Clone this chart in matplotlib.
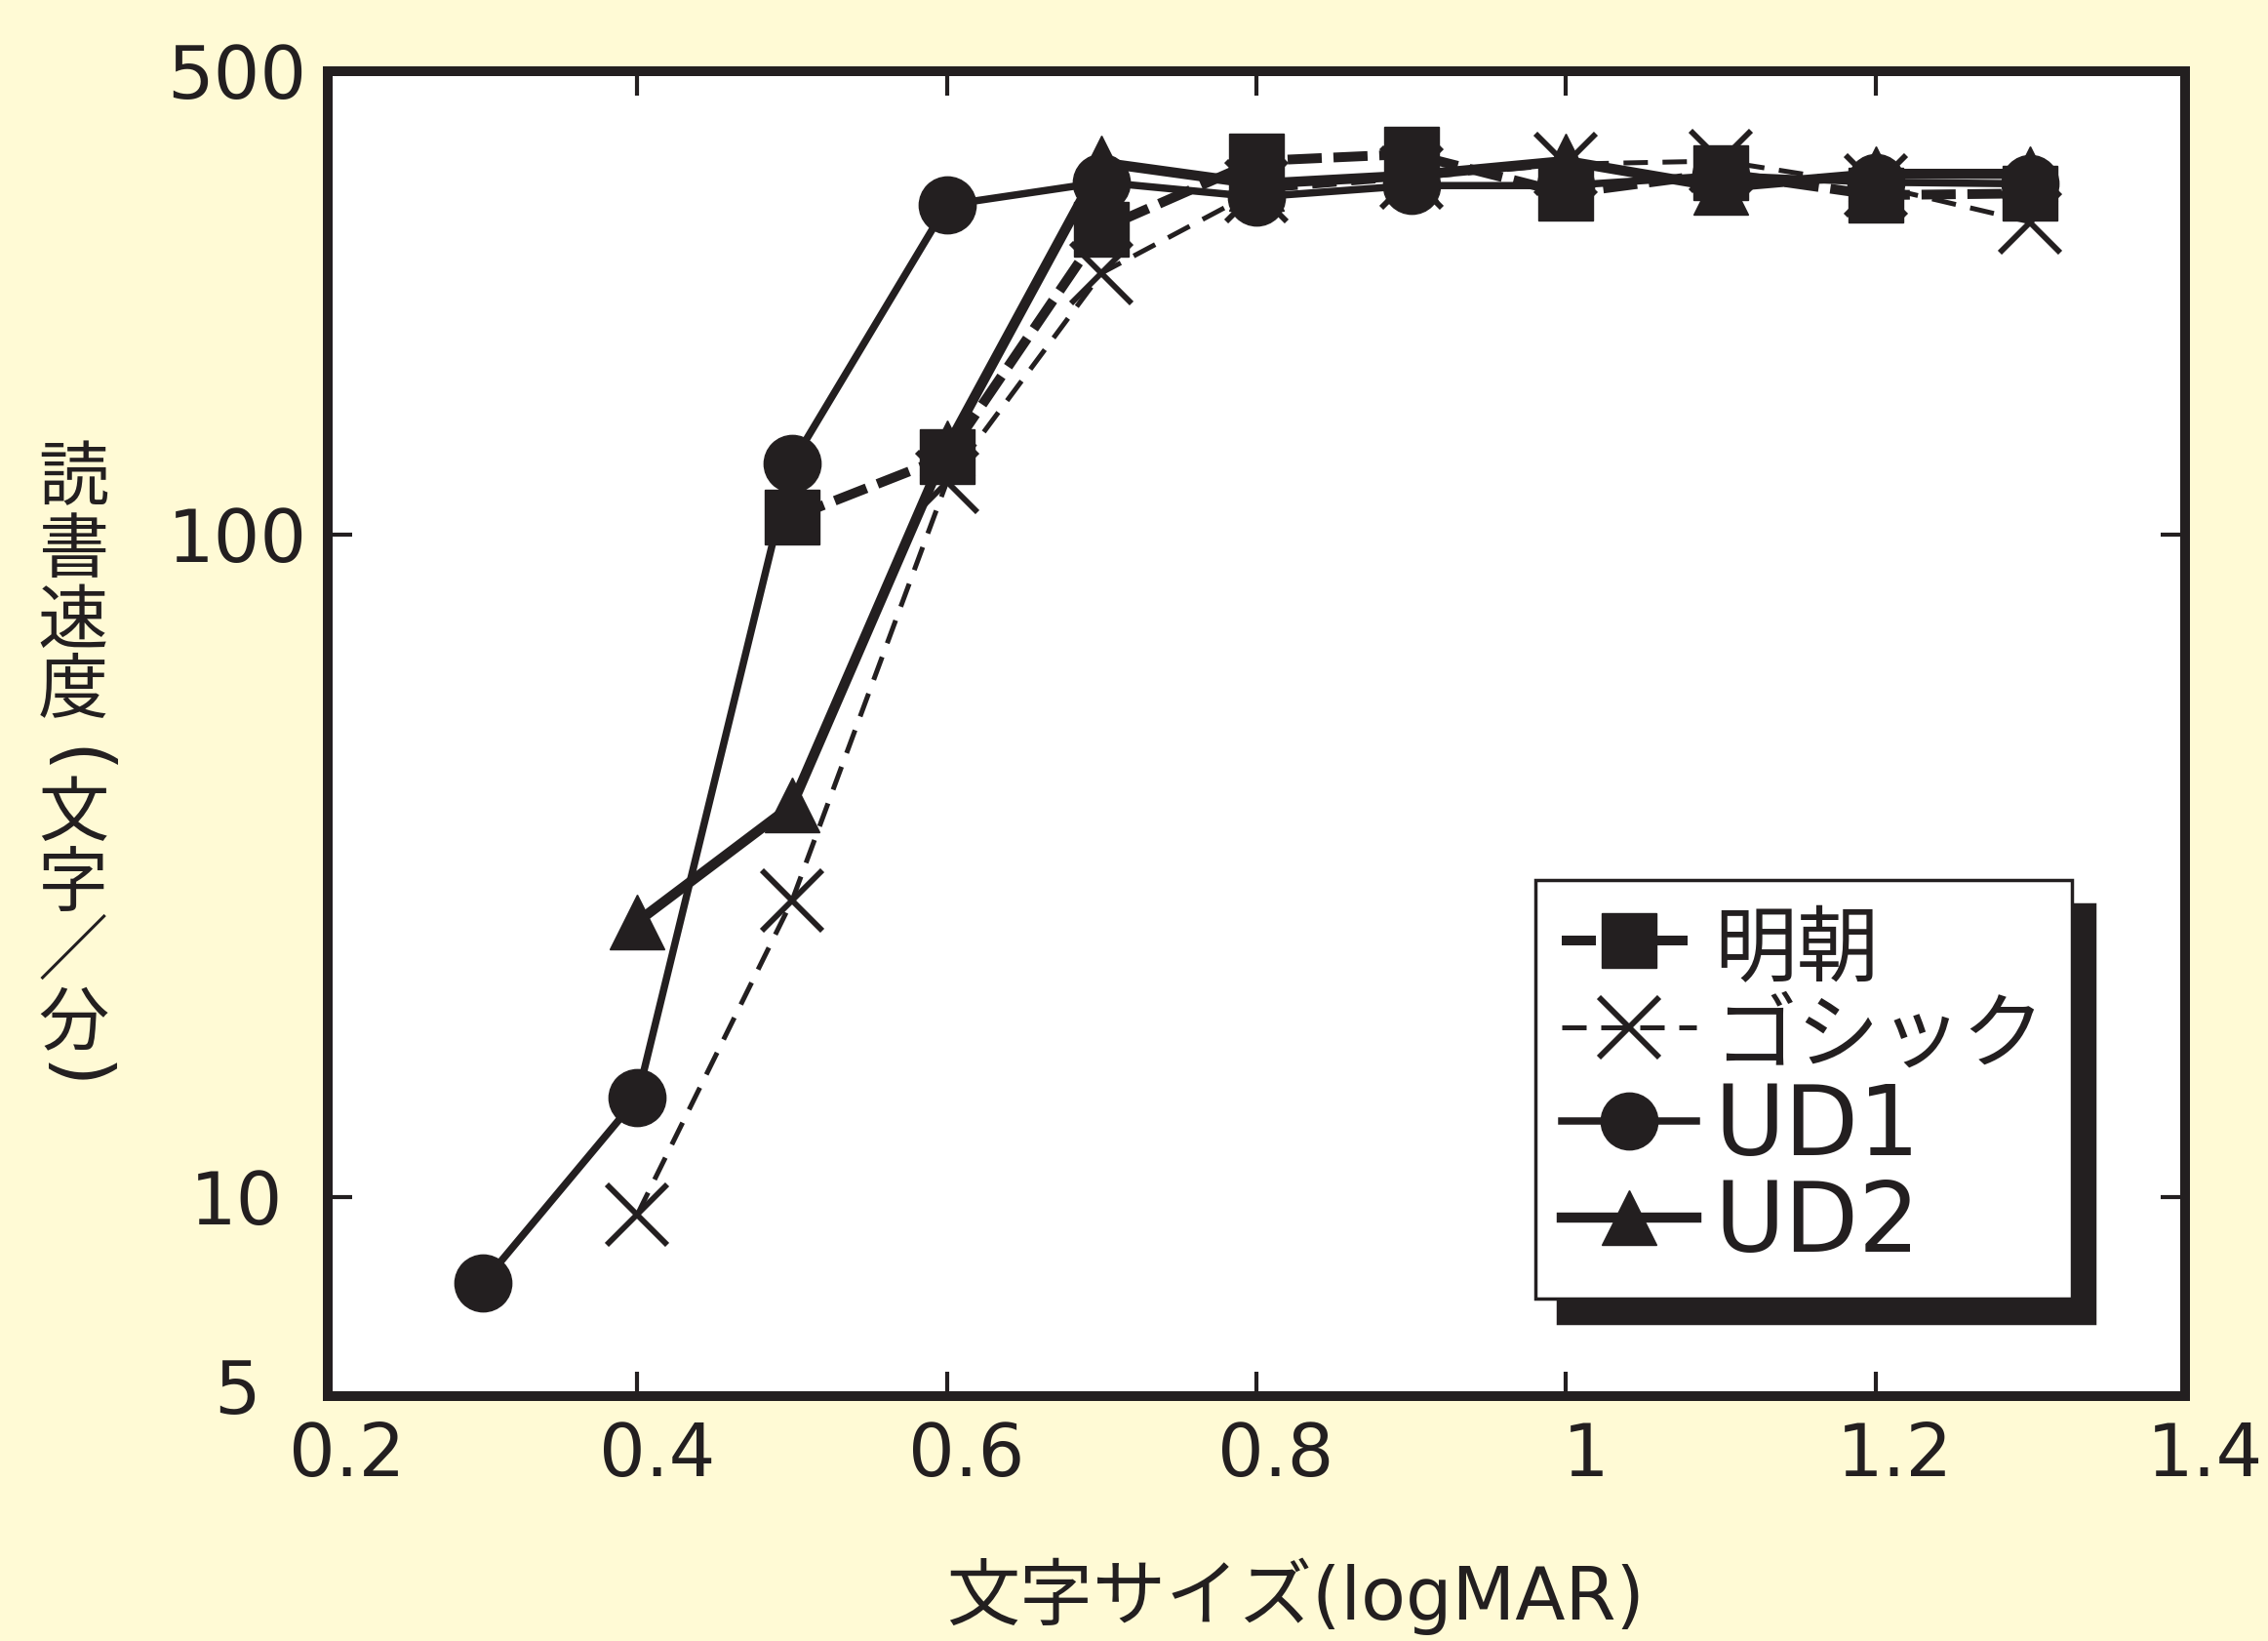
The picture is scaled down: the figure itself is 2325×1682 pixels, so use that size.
import matplotlib
matplotlib.use("Agg")
import matplotlib.pyplot as plt
from matplotlib.ticker import FixedLocator, NullLocator
from matplotlib.transforms import ScaledTranslation

plt.rcParams['font.family'] = ['DejaVu Sans', 'Noto Sans CJK JP']

INK = '#231F20'
BG = '#FFFAD5'

# 文字サイズ (logMAR) と読書速度 (文字/分)
size_mincho = [0.5, 0.6, 0.7, 0.8, 0.9, 1.0, 1.1, 1.2, 1.3]
speed_mincho = [106, 131, 289, 366, 375, 327, 351, 325, 327]

size_gothic = [0.4, 0.5, 0.6, 0.7, 0.8, 0.9, 1.0, 1.1, 1.2, 1.3]
speed_gothic = [9.4, 28, 120, 248, 330, 345, 362, 366, 336, 296]

size_ud1 = [0.3, 0.4, 0.5, 0.6, 0.7, 0.8, 0.9, 1.0, 1.1, 1.2, 1.3]
speed_ud1 = [7.4, 14.1, 128, 314, 340, 323, 336, 336, 348, 340, 338]

size_ud2 = [0.4, 0.5, 0.6, 0.7, 0.8, 0.9, 1.0, 1.1, 1.2, 1.3]
speed_ud2 = [26, 39, 135, 364, 338, 348, 366, 334, 350, 350]

xticks = [0.2, 0.4, 0.6, 0.8, 1.0, 1.2, 1.4]
xtick_labels = ['0.2', '0.4', '0.6', '0.8', '1', '1.2', '1.4']
yticks = [5, 10, 100, 500]
ytick_labels = ['5', '10', '100', '500']

fig = plt.figure(figsize=(23.25, 16.82), dpi=100, facecolor=BG)
ax = fig.add_axes([0.1445, 0.1492, 0.8190, 0.8074])
ax.set_facecolor('white')

l_ud1, = ax.plot(size_ud1, speed_ud1, color=INK, lw=5.4, marker='o', ms=42,
                 mec=INK, label='UD1', zorder=3)
l_ud2, = ax.plot(size_ud2, speed_ud2, color=INK, lw=7.5, marker='^', ms=40,
                 mec=INK, label='UD2', zorder=4)
l_got, = ax.plot(size_gothic, speed_gothic, color=INK, lw=3.6, dashes=(5, 3),
                 marker='x', ms=44, mew=4.2, label='ゴシック', zorder=5)
l_min, = ax.plot(size_mincho, speed_mincho, color=INK, lw=7.2, dashes=(3.5, 1.2),
                 marker='s', ms=41, mec=INK, label='明朝', zorder=6)

ax.set_yscale('log')
ax.set_xlim(0.2, 1.4)
ax.set_ylim(5, 500)
ax.xaxis.set_major_locator(FixedLocator(xticks))
ax.set_xticklabels(xtick_labels)
ax.yaxis.set_major_locator(FixedLocator(yticks))
ax.yaxis.set_minor_locator(NullLocator())
ax.set_yticklabels(ytick_labels)

for s in ax.spines.values():
    s.set_linewidth(7.2)
    s.set_color(INK)

ax.tick_params(axis='both', direction='in', length=18, width=3, color=INK,
               top=True, right=True, labelsize=54, labelcolor=INK)
ax.tick_params(axis='x', pad=18)
ax.tick_params(axis='y', pad=67)
for lab in ax.get_yticklabels():
    lab.set_horizontalalignment('center')
ax.get_yticklabels()[0].set_transform(
    ax.get_yticklabels()[0].get_transform() + ScaledTranslation(0, 0.11, fig.dpi_scale_trans))
for lab in ax.get_xticklabels():
    lab.set_transform(lab.get_transform() + ScaledTranslation(0.2, 0, fig.dpi_scale_trans))

ax.set_xlabel('文字サイズ(logMAR)', fontsize=54, color=INK)
ax.xaxis.set_label_coords(0.521, -0.151)
ax.xaxis.label.set_verticalalignment('center')

# 縦書きの軸ラベル (括弧は回転して縦書き用に)
ylabel_chars = ['読', '書', '速', '度', '(', '文', '字', '／', '分', ')']
ylabel_ypix = [492, 566, 638, 709, 780, 836, 908, 977, 1050, 1103]
for ch, yp in zip(ylabel_chars, ylabel_ypix):
    if ch in '()':
        fig.text(75 / 2325, 1 - yp / 1682, ch, fontsize=56, color=INK,
                 family=['DejaVu Sans'], ha='center', va='center', rotation=-90)
    else:
        fig.text(75 / 2325, 1 - yp / 1682, ch, fontsize=52, color=INK,
                 family=['Noto Sans CJK JP'], ha='center', va='center')

leg = ax.legend([l_min, l_got, l_ud1, l_ud2], ['明朝', 'ゴシック', 'UD1', 'UD2'],
                loc='upper left', bbox_to_anchor=(0.650, 0.3895), borderaxespad=0,
                fontsize=71, handlelength=1.4, handletextpad=0.18, borderpad=0.28,
                labelspacing=0.02, fancybox=False, framealpha=1,
                shadow={'ox': 17, 'oy': -18, 'facecolor': INK, 'edgecolor': INK, 'alpha': 1})
leg.get_frame().set_edgecolor(INK)
leg.get_frame().set_linewidth(2.5)
for t in leg.get_texts():
    t.set_color(INK)
leg.get_texts()[0].set_fontsize(61)
leg.get_texts()[1].set_fontsize(61)

fig.savefig('out.png', dpi=100, facecolor=BG)
